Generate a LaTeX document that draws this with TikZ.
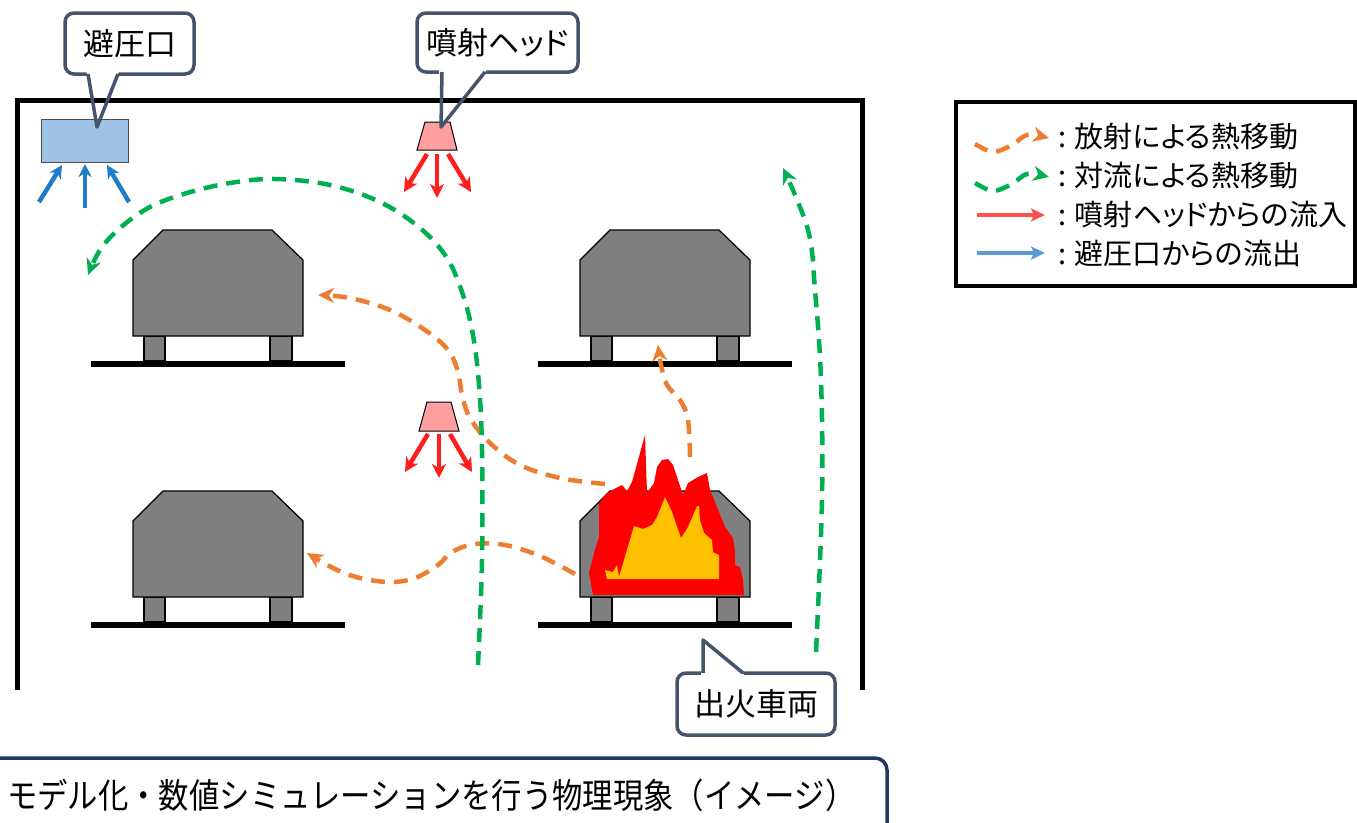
\documentclass[tikz,border=0pt]{standalone}
\usepackage{fontspec}
\newfontfamily\jpfont[RawFeature=+palt]{Noto Sans CJK JP}
\newfontfamily\titlefont[FakeStretch=0.88]{Noto Sans CJK JP}
\usetikzlibrary{arrows.meta,positioning}

\definecolor{heatorange}{RGB}{237,125,49}
\definecolor{flowgreen}{RGB}{0,176,80}
\definecolor{ventblue}{RGB}{157,195,230}
\definecolor{suckblue}{RGB}{30,125,200}
\definecolor{jetred}{RGB}{255,30,30}
\definecolor{headpink}{RGB}{255,159,159}
\definecolor{carfill}{RGB}{127,127,127}
\definecolor{flameyellow}{RGB}{255,192,0}
\definecolor{balloonline}{RGB}{68,84,106}
\definecolor{titleline}{RGB}{32,56,100}
\definecolor{keyred}{RGB}{255,80,80}
\definecolor{keyblue}{RGB}{91,155,213}

\begin{document}
\begin{tikzpicture}[x=1pt,y=-1pt,
    wall/.style={line width=5pt},
    car body/.style={fill=carfill,draw=black,line width=1.2pt},
    floor/.style={line width=6pt},
    car/.pic={
      \draw[car body] (11,106) rectangle (32,131);
      \draw[car body] (137,106) rectangle (159,131);
      \draw[car body] (0,30) -- (30,0) -- (139,0) -- (170,30) -- (170,106) -- (0,106) -- cycle;
      \draw[floor] (-42,134) -- (212,134);
    },
    heat/.style={heatorange,line width=4.5pt,dash pattern=on 14pt off 9pt,
      -{Stealth[length=16pt,width=15pt,inset=5pt]}},
    convection/.style={heat,flowgreen},
    jet/.style={jetred,line width=4.5pt,-{Stealth[length=14pt,width=14pt,inset=4pt]}},
    suction/.style={suckblue,line width=4.5pt,-{Stealth[length=13pt,width=13pt,inset=4pt]}},
    head/.style={fill=headpink,draw=black,line width=1pt},
    balloon/.style={draw=balloonline,line width=3.5pt,rounded corners=9pt,fill=white,
      font=\jpfont\fontsize{31}{36}\selectfont,inner sep=0pt},
    balloon tail/.style={draw=balloonline,line width=3.5pt,line join=round},
    legend text/.style={font=\jpfont\fontsize{29}{34}\selectfont,inner sep=0pt,anchor=west},
    key/.style={line width=4pt,-{Stealth[length=14pt,width=13pt,inset=3pt]}}
  ]
  \useasboundingbox (0,0) rectangle (1357,822);
  \clip (0,0) rectangle (1357,822);

  % callout boxes (tails are filled white first, outlined at the end)
  \node[balloon,minimum width=129,minimum height=61] (ventlabel) at (129.5,43.5) {避圧口};
  \fill[white] (86,69) -- (97,127) -- (120,69) -- cycle;
  \node[balloon,minimum width=161,minimum height=59] (headlabel) at (497.5,42.5) {噴射ヘッド};
  \fill[white] (439,67) -- (441,127) -- (489,67) -- cycle;
  \node[balloon,minimum width=158,minimum height=62] (firelabel) at (756,704) {出火車両};
  \fill[white] (701,678) -- (703,640) -- (748,678) -- cycle;

  % parking room
  \draw[wall] (17,690) -- (17,100) -- (862,100) -- (862,690);

  \pic at (133,230) {car};
  \pic at (580,230) {car};
  \pic at (133,491) {car};
  \pic at (580,491) {car};

  % fire on the lower right car
  \fill[red] (593,595) -- (589,573) -- (594,553) -- (599,537) -- (599,503) -- (605,495)
    -- (612,490) -- (622,485) -- (627,491) -- (632,482) -- (645,435) -- (647,493)
    -- (654,483) -- (657,467) -- (662,460) -- (668,459) -- (673,465) -- (677,477)
    -- (683,495) -- (688,483) -- (698,477) -- (707,473) -- (710,490) -- (717,507)
    -- (725,527) -- (733,538) -- (735,552) -- (735,565) -- (740,567) -- (743,580)
    -- (744,595) -- cycle;
  \fill[flameyellow] (607,579) -- (605,570) -- (613,572) -- (617,565) -- (619,577)
    -- (634,526) -- (643,529) -- (652,525) -- (657,517) -- (665,497) -- (672,512)
    -- (681,538) -- (688,527) -- (697,506) -- (699,506) -- (700,520) -- (704,533)
    -- (712,540) -- (713,552) -- (719,555) -- (719,579) -- cycle;

  % vent and spray heads
  \draw[fill=ventblue,draw=black!70,line width=1pt] (41,119) rectangle (128,162);
  \draw[suction] (39,202) -- (62,165);
  \draw[suction] (85,208) -- (85,164);
  \draw[suction] (129,202) -- (107,165);

  \draw[head] (425,122) -- (450,122) -- (457,150) -- (417,150) -- cycle;
  \draw[jet] (427,154) -- (404,192);
  \draw[jet] (437,154) -- (437,198);
  \draw[jet] (448,154) -- (471,192);

  \draw[head] (427,402) -- (451,402) -- (459,431) -- (419,431) -- cycle;
  \draw[jet] (428,434) -- (405,472);
  \draw[jet] (439,434) -- (439,478);
  \draw[jet] (450,434) -- (472,472);

  % radiation
  \draw[heat] plot[smooth,tension=0.6] coordinates {(605,484) (560,478) (520,465) (490,443)
    (470,418) (462,395) (458,372) (448,350) (425,330) (390,310) (350,298) (318,295)};
  \draw[heat] plot[smooth,tension=0.6] coordinates {(690,457) (688,420) (680,400) (667,385)
    (661,365) (658,345)};
  \draw[heat] plot[smooth,tension=0.6] coordinates {(575,574) (540,556) (505,545) (475,544)
    (452,552) (438,565) (415,578) (390,582) (360,578) (335,569) (307,553)};

  % convection
  \draw[convection] plot[smooth,tension=0.6] coordinates {(478,665) (482,560) (482,450)
    (479,385) (473,335) (463,295) (447,258) (420,228) (380,202) (330,185) (275,179)
    (230,183) (187,193) (150,207) (120,228) (100,250) (88,275)};
  \draw[convection] plot[smooth,tension=0.6] coordinates {(816,652) (822,500) (821,380)
    (815,290) (808,230) (783,168)};

  % callout tails
  \draw[balloon tail] (88,74) -- (97,127) -- (118,74);
  \draw[balloon tail] (442,72) -- (441,127) -- (485,72);
  \draw[balloon tail] (703,673) -- (703,640) -- (743,673);

  % legend
  \draw[line width=4pt] (956,102) rectangle (1355,286);
  \node[legend text] (radkey) at (1058,137) {: 放射による熱移動};
  \node[legend text,below=39pt of radkey.west,anchor=west] (convkey) {: 対流による熱移動};
  \node[legend text,below=39pt of convkey.west,anchor=west] (jetkey) {: 噴射ヘッドからの流入};
  \node[legend text,below=38pt of jetkey.west,anchor=west] (ventkey) {: 避圧口からの流出};
  \draw[heat] plot[smooth] coordinates {([shift={(-83,7)}]radkey.west) ([shift={(-65,15)}]radkey.west)
    ([shift={(-46,8)}]radkey.west) ([shift={(-31,-2)}]radkey.west) ([shift={(-9,1)}]radkey.west)};
  \draw[convection] plot[smooth] coordinates {([shift={(-83,7)}]convkey.west) ([shift={(-65,15)}]convkey.west)
    ([shift={(-46,8)}]convkey.west) ([shift={(-31,-2)}]convkey.west) ([shift={(-9,1)}]convkey.west)};
  \draw[key,keyred] ([xshift=-81pt]jetkey.west) -- ([xshift=-13pt]jetkey.west);
  \draw[key,keyblue] ([xshift=-81pt]ventkey.west) -- ([xshift=-13pt]ventkey.west);

  % caption
  \draw[titleline,line width=3.5pt,rounded corners=12pt] (-20,758) rectangle (887,860);
  \node[anchor=west,inner sep=0pt,font=\titlefont\fontsize{34.5}{40}\selectfont] (caption) at (7,795)
    {モデル化・数値シミュレーションを行う物理現象（イメージ）};
\end{tikzpicture}
\end{document}
